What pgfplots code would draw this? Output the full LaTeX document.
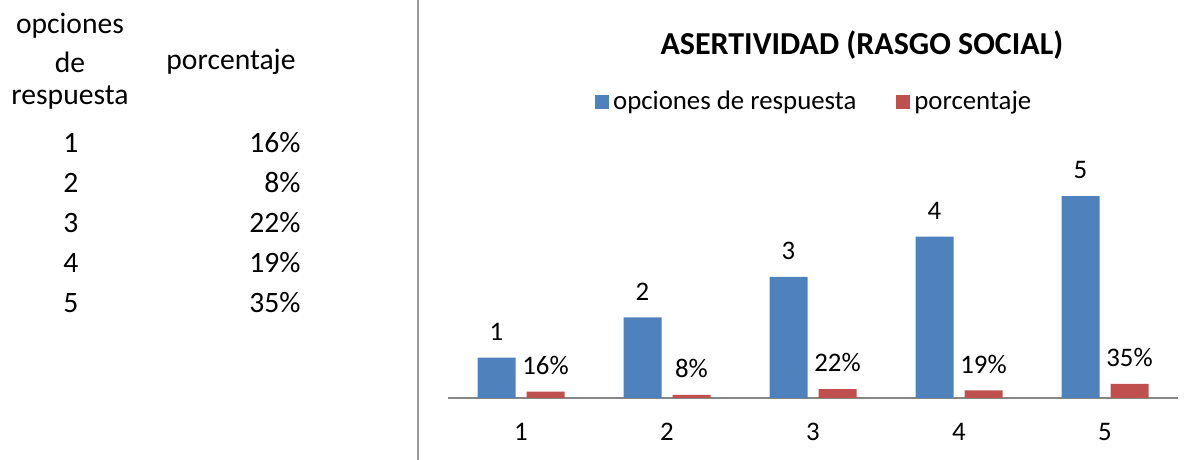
\documentclass[border=0pt]{standalone}
\usepackage{pgfplots}
\pgfplotsset{compat=1.18}
\usepackage{fontspec}
\setmainfont{Carlito}
\definecolor{cblue}{HTML}{4F81BD}
\definecolor{cred}{HTML}{C0504D}
\definecolor{caxis}{HTML}{868686}
\definecolor{cline}{HTML}{9A9A9A}
\begin{document}
\begin{tikzpicture}[x=0.5pt,y=0.5pt]
\path[use as bounding box] (0,0) rectangle (1199,460);
% left table
\begin{scope}[every node/.style={font=\fontsize{14.8}{17}\selectfont, inner sep=0pt}]
\node at (70,434) {opciones};
\node at (70,398) {de};
\node at (70,362) {respuesta};
\node at (231,398) {porcentaje};
\foreach \v/\p [count=\i] in {1/16,2/8,3/22,4/19,5/35}{
  \node at (71,{460-143-40*(\i-1)}) {\v};
  \node[anchor=east] at (301,{460-143-40*(\i-1)}) {\p\%};
}
\end{scope}
\draw[cline, line width=1.2] (418,0) -- (418,460);
\begin{axis}[
  at={(224pt,31pt)}, anchor=south west,
  scale only axis, width=365pt, height=111pt,
  xmin=0.5, xmax=5.5, ymin=0, ymax=5.5,
  axis x line=bottom, axis y line=none,
  x axis line style={caxis, line width=1pt, -},
  xtick={1,2,3,4,5}, major tick length=0pt,
  /pgf/number format/assume math mode=true,
  xticklabel style={font=\fontsize{13.4}{15}\selectfont, yshift=-9pt},
  ybar=5.5pt, bar width=19pt,
  point meta=explicit symbolic,
  nodes near coords,
  every node near coord/.append style={font=\fontsize{13.4}{15}\selectfont, black, yshift=5pt},
  title={\textbf{ASERTIVIDAD (RASGO SOCIAL)}},
  title style={font=\fontsize{16}{18}\selectfont, at={(axis description cs:0.567,1.536)}, anchor=center},
  legend columns=2,
  legend style={draw=none, font=\fontsize{13.4}{15}\selectfont, at={(axis description cs:0.503,1.333)}, anchor=center,
    /tikz/every even column/.append style={column sep=18pt}},
  legend image code/.code={\fill[#1] (0pt,-3.5pt) rectangle (7pt,3.5pt);},
]
\addplot[fill=cblue, draw=none] coordinates {(1,1) [1] (2,2) [2] (3,3) [3] (4,4) [4] (5,5) [5]};
\addplot[fill=cred, draw=none] coordinates {(1,0.16) [16\%] (2,0.08) [8\%] (3,0.22) [22\%] (4,0.19) [19\%] (5,0.35) [35\%]};
\legend{opciones de respuesta, porcentaje}
\end{axis}
\end{tikzpicture}
\end{document}
